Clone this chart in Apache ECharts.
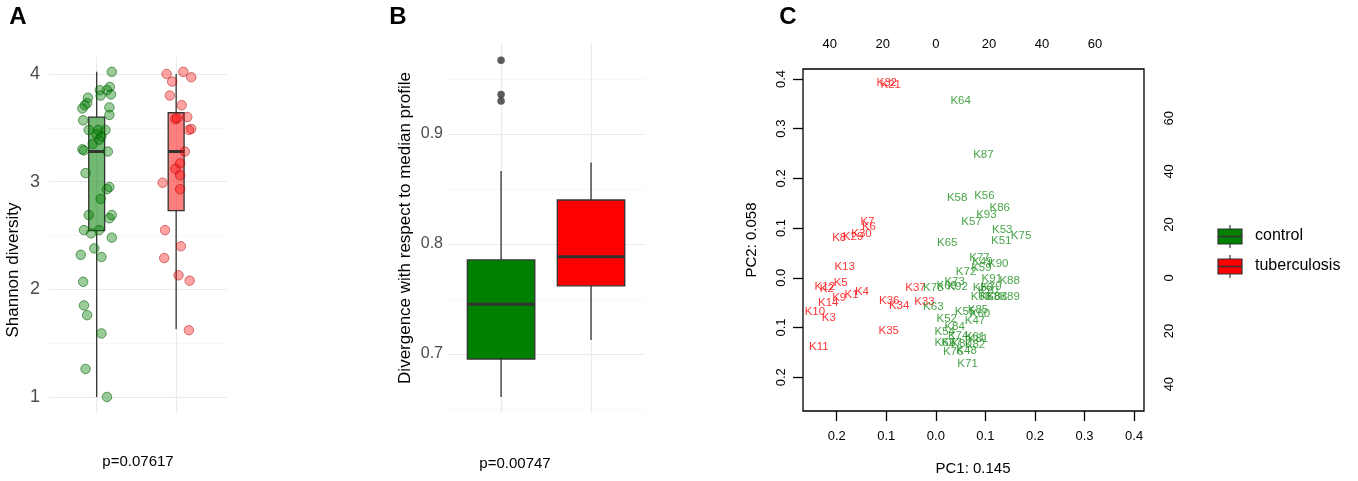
<!DOCTYPE html>
<html>
<head>
<meta charset="utf-8">
<script src="https://cdn.jsdelivr.net/npm/echarts@6/dist/echarts.min.js"></script>
<style>
  html, body { margin: 0; padding: 0; background: #fff; }
  #chart { width: 1358px; height: 481px; }
</style>
</head>
<body>
<div id="chart"></div>
<script>
// --- panel A: Shannon diversity (jittered points, [position, value])
const shannonControl = [
  [1.19,4.02],[1.165,3.88],[1.13,3.85],[1.04,3.85],[1.05,3.80],[1.18,3.81],[0.89,3.78],[0.88,3.73],
  [0.82,3.68],[0.85,3.71],[1.16,3.69],[1.16,3.62],[0.83,3.57],[0.90,3.48],[1.02,3.48],[1.11,3.48],
  [1.03,3.39],[0.95,3.35],[0.82,3.30],[0.84,3.29],[1.14,3.28],[1.00,3.44],[1.06,3.42],[0.86,3.08],
  [1.13,2.93],[1.16,2.95],[1.05,2.84],[0.90,2.69],[1.19,2.69],[1.16,2.66],[0.84,2.55],[0.93,2.52],
  [1.03,2.55],[1.19,2.48],[0.97,2.38],[0.80,2.32],[1.06,2.30],[0.83,2.07],[0.84,1.85],[0.88,1.76],
  [1.06,1.59],[0.86,1.26],[1.13,1.00]
];
const shannonTb = [
  [1.88,4.00],[1.95,3.93],[2.09,4.02],[2.19,3.97],[1.92,3.80],[2.07,3.71],[2.14,3.60],[1.99,3.58],
  [2.01,3.59],[2.19,3.49],[2.16,3.48],[2.11,3.28],[2.05,3.17],[1.99,3.12],[2.05,3.06],[1.83,2.99],
  [2.05,2.93],[1.86,2.55],[2.06,2.40],[1.85,2.29],[2.03,2.13],[2.17,2.08],[2.16,1.62]
];
// box stats: [position, lower whisker, q1, median, q3, upper whisker]
const shannonBoxes = [
  [1, 1.00, 2.545, 3.28, 3.60, 4.02],
  [2, 1.63, 2.73, 3.28, 3.64, 4.00]
];

// --- panel B: divergence from median profile
const divergenceBoxes = [
  [1, 0.661, 0.6955, 0.7452, 0.7855, 0.8664],
  [2, 0.7127, 0.762, 0.7885, 0.840, 0.874]
];
const divergenceOutliers = [[1, 0.967], [1, 0.936], [1, 0.930]];

// --- panel C: PCA biplot labels
const pcaTbNames = ['K32','K21','K7','K6','K30','K29','K8','K13','K5','K12','K2','K1','K4','K9','K14','K10','K3','K11','K36','K34','K35','K37','K33'];
const pcaTbPC1 = [-0.099,-0.091,-0.138,-0.135,-0.150,-0.167,-0.195,-0.184,-0.192,-0.224,-0.220,-0.170,-0.149,-0.195,-0.217,-0.244,-0.216,-0.236,-0.094,-0.074,-0.095,-0.041,-0.023];
const pcaTbPC2 = [0.393,0.388,0.112,0.102,0.088,0.083,0.080,0.023,-0.010,-0.018,-0.023,-0.034,-0.028,-0.040,-0.050,-0.069,-0.080,-0.139,-0.046,-0.056,-0.107,-0.020,-0.048];

const pcaCtrlNames = ['K64','K87','K58','K56','K86','K93','K57','K53','K51','K75','K65','K77','K49','K59','K90','K72','K91','K88','K78','K69','K73','K92','K50','K79','K70','K66','K68','K83','K89','K63','K55','K85','K60','K47','K52','K84','K54','K74','K61','K81','K82','K67','K62','K80','K76','K48','K71'];
const pcaCtrlPC1 = [0.050,0.096,0.043,0.098,0.129,0.102,0.072,0.134,0.132,0.172,0.023,0.088,0.094,0.092,0.126,0.061,0.113,0.149,-0.005,0.022,0.038,0.044,0.095,0.112,0.105,0.091,0.109,0.123,0.149,-0.005,0.059,0.085,0.089,0.079,0.022,0.038,0.018,0.045,0.079,0.085,0.079,0.032,0.018,0.052,0.035,0.062,0.064];
const pcaCtrlPC2 = [0.355,0.248,0.161,0.164,0.140,0.127,0.112,0.096,0.074,0.084,0.070,0.041,0.033,0.020,0.028,0.012,-0.003,-0.006,-0.020,-0.016,-0.009,-0.018,-0.021,-0.019,-0.026,-0.039,-0.039,-0.039,-0.039,-0.058,-0.069,-0.064,-0.072,-0.086,-0.082,-0.099,-0.109,-0.116,-0.118,-0.122,-0.135,-0.131,-0.131,-0.132,-0.149,-0.146,-0.173];

const pcTicks = [-0.2, -0.1, 0, 0.1, 0.2, 0.3, 0.4];
const loadingTicks = [-40, -20, 0, 20, 40, 60];
const groups = ['control', 'tuberculosis'];

const FONT = '"Liberation Sans", Arial, Helvetica, sans-serif';
const GRID_MAJOR = '#ebebeb', GRID_MINOR = '#f5f5f5';

// boxes drawn through the axis scales
function boxRenderer(halfWidth, fills, medianWidth) {
    return function (params, api) {
        const pos = api.value(0);
        const lo = api.coord([pos, api.value(1)]);
        const q1 = api.coord([pos - halfWidth, api.value(2)]);
        const med = api.coord([pos + halfWidth, api.value(3)]);
        const q3 = api.coord([pos + halfWidth, api.value(4)]);
        const hi = api.coord([pos, api.value(5)]);
        const stroke = { stroke: '#333333', lineWidth: 1.3 };
        return {
            type: 'group',
            children: [
                { type: 'line', shape: { x1: lo[0], y1: lo[1], x2: lo[0], y2: q1[1] }, style: stroke },
                { type: 'line', shape: { x1: hi[0], y1: q3[1], x2: hi[0], y2: hi[1] }, style: stroke },
                { type: 'rect', shape: { x: q1[0], y: q3[1], width: q3[0] - q1[0], height: q1[1] - q3[1] },
                  style: Object.assign({ fill: fills[params.dataIndex] }, stroke) },
                { type: 'line', shape: { x1: q1[0], y1: med[1], x2: med[0], y2: med[1] },
                  style: { stroke: '#333333', lineWidth: medianWidth } }
            ]
        };
    };
}

function minimalX(gridIndex, min, max) {
    return {
        type: 'value', gridIndex, min, max, splitNumber: 2,
        axisLine: { show: false }, axisTick: { show: false }, axisLabel: { show: false },
        splitLine: { show: true, showMinLine: false, showMaxLine: false, lineStyle: { color: GRID_MAJOR, width: 1.2 } }
    };
}
function minimalY(gridIndex, min, max, fmt, fontSize, margin) {
    return {
        type: 'value', gridIndex, min, max, splitNumber: 3,
        axisLine: { show: false }, axisTick: { show: false },
        axisLabel: { color: '#4d4d4d', fontSize, fontFamily: FONT, margin, formatter: fmt },
        splitLine: { show: true, showMinLine: false, showMaxLine: false, lineStyle: { color: GRID_MAJOR, width: 1.2 } },
        minorTick: { show: false, splitNumber: 2 },
        minorSplitLine: { show: true, lineStyle: { color: GRID_MINOR, width: 0.8 } }
    };
}

const pcLabel = v => Math.abs(v).toFixed(1);
const loadLabel = v => String(Math.abs(Math.round(v)));
const axisText = { color: '#000', fontSize: 13, fontFamily: FONT };

const chart = echarts.init(document.getElementById('chart'));
chart.setOption({
    animation: false,
    backgroundColor: '#fff',
    grid: [
        { left: 49, top: 57, width: 178, height: 356 },
        { left: 448, top: 43, width: 197, height: 370 },
        { left: 803, top: 69, width: 341, height: 342, show: true, borderColor: '#000', borderWidth: 1.3, backgroundColor: 'transparent' }
    ],
    xAxis: [
        minimalX(0, 0.4, 2.64),
        minimalX(1, 0.41, 2.6),
        {
            type: 'value', gridIndex: 2, min: -0.268, max: 0.420, position: 'bottom',
            axisLine: { show: false, onZero: false },
            axisTick: { show: true, length: 10, customValues: pcTicks, lineStyle: { color: '#000', width: 1.3 } },
            axisLabel: Object.assign({ customValues: pcTicks, margin: 19, formatter: pcLabel }, axisText),
            splitLine: { show: false }
        },
        {
            type: 'value', gridIndex: 2, min: -50.1, max: 78.5, position: 'top',
            axisLine: { show: false, onZero: false }, axisTick: { show: false },
            axisLabel: Object.assign({ customValues: loadingTicks, margin: 18, formatter: loadLabel }, axisText),
            splitLine: { show: false }
        }
    ],
    yAxis: [
        minimalY(0, 0.851, 4.158, v => (Math.abs(v - Math.round(v)) < 1e-6 ? String(Math.round(v)) : ''), 18, 9),
        minimalY(1, 0.6464, 0.9827, v => (Math.abs(v * 10 - Math.round(v * 10)) < 1e-6 ? v.toFixed(1) : ''), 16, 5),
        {
            type: 'value', gridIndex: 2, min: -0.268, max: 0.420, position: 'left',
            axisLine: { show: false, onZero: false },
            axisTick: { show: true, length: 10, customValues: pcTicks, lineStyle: { color: '#000', width: 1.3 } },
            axisLabel: Object.assign({ customValues: pcTicks, margin: 15, rotate: 90, formatter: pcLabel }, axisText),
            splitLine: { show: false }
        },
        {
            type: 'value', gridIndex: 2, min: -50.1, max: 78.5, position: 'right',
            axisLine: { show: false, onZero: false }, axisTick: { show: false },
            axisLabel: Object.assign({ customValues: loadingTicks, margin: 19, rotate: 90, formatter: loadLabel }, axisText),
            splitLine: { show: false }
        }
    ],
    series: [
        {
            type: 'custom', xAxisIndex: 0, yAxisIndex: 0, silent: true,
            renderItem: boxRenderer(0.1, ['rgba(0,128,0,0.55)', 'rgba(255,0,0,0.5)'], 3),
            data: shannonBoxes
        },
        {
            name: groups[0], type: 'scatter', xAxisIndex: 0, yAxisIndex: 0, symbolSize: 9.5, silent: true,
            itemStyle: { color: 'rgba(0,128,0,0.5)', borderColor: 'rgba(0,90,0,0.7)', borderWidth: 1 },
            data: shannonControl
        },
        {
            name: groups[1], type: 'scatter', xAxisIndex: 0, yAxisIndex: 0, symbolSize: 9.5, silent: true,
            itemStyle: { color: 'rgba(255,0,0,0.45)', borderColor: 'rgba(160,0,0,0.6)', borderWidth: 1 },
            data: shannonTb
        },
        {
            type: 'custom', xAxisIndex: 1, yAxisIndex: 1, silent: true,
            renderItem: boxRenderer(0.375, ['#008000', '#ff0000'], 3),
            data: divergenceBoxes
        },
        {
            type: 'scatter', xAxisIndex: 1, yAxisIndex: 1, symbolSize: 7.5, silent: true,
            itemStyle: { color: '#333333' },
            data: divergenceOutliers
        },
        {
            type: 'scatter', xAxisIndex: 2, yAxisIndex: 2, symbolSize: 1, silent: true,
            itemStyle: { color: 'rgba(0,0,0,0)' },
            label: { show: true, position: 'inside', formatter: '{b}', color: '#ff0000', fontSize: 11.5, fontFamily: FONT },
            data: pcaTbNames.map((n, i) => ({ name: n, value: [pcaTbPC1[i], pcaTbPC2[i]] }))
        },
        {
            type: 'scatter', xAxisIndex: 2, yAxisIndex: 2, symbolSize: 1, silent: true,
            itemStyle: { color: 'rgba(0,0,0,0)' },
            label: { show: true, position: 'inside', formatter: '{b}', color: '#1c8c1c', fontSize: 11.5, fontFamily: FONT },
            data: pcaCtrlNames.map((n, i) => ({ name: n, value: [pcaCtrlPC1[i], pcaCtrlPC2[i]] }))
        }
    ],
    graphic: [
        // panel letters
        { type: 'text', x: 18, y: 17, style: { text: 'A', fontSize: 24, fontWeight: 'bold', fontFamily: FONT, fill: '#000', align: 'center', verticalAlign: 'middle' } },
        { type: 'text', x: 398, y: 17, style: { text: 'B', fontSize: 24, fontWeight: 'bold', fontFamily: FONT, fill: '#000', align: 'center', verticalAlign: 'middle' } },
        { type: 'text', x: 788, y: 17, style: { text: 'C', fontSize: 24, fontWeight: 'bold', fontFamily: FONT, fill: '#000', align: 'center', verticalAlign: 'middle' } },
        // axis titles
        { type: 'text', x: 13, y: 270, rotation: Math.PI / 2, style: { text: 'Shannon diversity', fontSize: 17, fontFamily: FONT, fill: '#000', align: 'center', verticalAlign: 'middle' } },
        { type: 'text', x: 138, y: 462, style: { text: 'p=0.07617', fontSize: 15, fontFamily: FONT, fill: '#000', align: 'center', verticalAlign: 'middle' } },
        { type: 'text', x: 405, y: 228, rotation: Math.PI / 2, style: { text: 'Divergence with respect to median profile', fontSize: 17, fontFamily: FONT, fill: '#000', align: 'center', verticalAlign: 'middle' } },
        { type: 'text', x: 515, y: 464, style: { text: 'p=0.00747', fontSize: 15, fontFamily: FONT, fill: '#000', align: 'center', verticalAlign: 'middle' } },
        { type: 'text', x: 973, y: 469, style: { text: 'PC1: 0.145', fontSize: 15, fontFamily: FONT, fill: '#000', align: 'center', verticalAlign: 'middle' } },
        { type: 'text', x: 752, y: 240, rotation: Math.PI / 2, style: { text: 'PC2: 0.058', fontSize: 15, fontFamily: FONT, fill: '#000', align: 'center', verticalAlign: 'middle' } },
        // legend keys (boxplot glyphs)
        { type: 'line', shape: { x1: 1230, y1: 225, x2: 1230, y2: 248 }, style: { stroke: '#333', lineWidth: 1.2 } },
        { type: 'rect', shape: { x: 1218, y: 229, width: 24, height: 15 }, style: { fill: '#008000', stroke: '#333', lineWidth: 1.2 } },
        { type: 'line', shape: { x1: 1218, y1: 236.5, x2: 1242, y2: 236.5 }, style: { stroke: '#333', lineWidth: 1.6 } },
        { type: 'text', x: 1255, y: 236, style: { text: groups[0], fontSize: 16, fontFamily: FONT, fill: '#000', align: 'left', verticalAlign: 'middle' } },
        { type: 'line', shape: { x1: 1230, y1: 255, x2: 1230, y2: 278 }, style: { stroke: '#333', lineWidth: 1.2 } },
        { type: 'rect', shape: { x: 1218, y: 259, width: 24, height: 15 }, style: { fill: '#ff0000', stroke: '#333', lineWidth: 1.2 } },
        { type: 'line', shape: { x1: 1218, y1: 266.5, x2: 1242, y2: 266.5 }, style: { stroke: '#333', lineWidth: 1.6 } },
        { type: 'text', x: 1255, y: 266, style: { text: groups[1], fontSize: 16, fontFamily: FONT, fill: '#000', align: 'left', verticalAlign: 'middle' } }
    ]
});
window.onresize = () => chart.resize();
</script>
</body>
</html>
